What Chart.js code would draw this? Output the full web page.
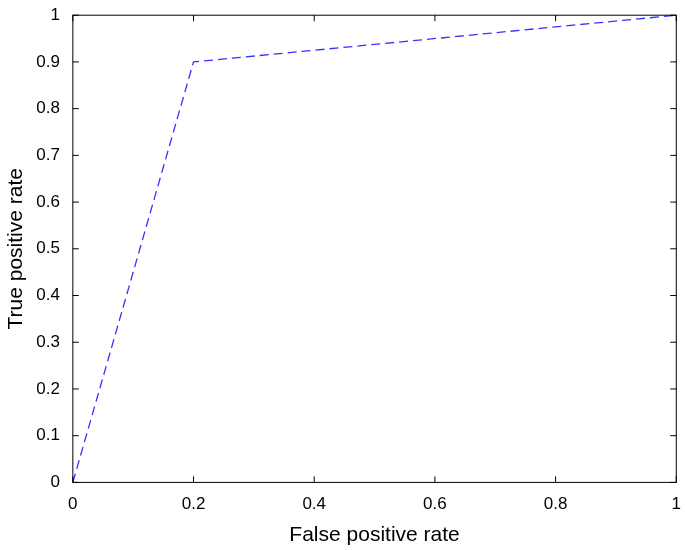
<!DOCTYPE html>
<html>
<head>
  <meta charset="UTF-8">
  <title>ROC curve</title>
  <script src="https://cdn.jsdelivr.net/npm/chart.js"></script>
  <style>
    body { margin: 0; background: #fff; }
  </style>
</head>
<body>
  <canvas id="roc" width="685" height="550"></canvas>
  <script>
    // ROC points
    const fpr = [0, 0.2, 1];
    const tpr = [0, 0.9, 1];
    const xTicks = [0, 0.2, 0.4, 0.6, 0.8, 1];
    const yTicks = [0, 0.1, 0.2, 0.3, 0.4, 0.5, 0.6, 0.7, 0.8, 0.9, 1];

    // box around the plot with short inward ticks, matlab style
    const boxPlugin = {
      id: 'box',
      afterDraw(chart) {
        const { ctx, chartArea: a, scales } = chart;
        ctx.save();
        ctx.strokeStyle = '#000';
        ctx.lineWidth = 1;
        ctx.strokeRect(a.left, a.top, a.right - a.left, a.bottom - a.top);
        ctx.beginPath();
        xTicks.forEach(v => {
          const x = scales.x.getPixelForValue(v);
          ctx.moveTo(x, a.bottom); ctx.lineTo(x, a.bottom - 6);
          ctx.moveTo(x, a.top); ctx.lineTo(x, a.top + 6);
        });
        yTicks.forEach(v => {
          const y = scales.y.getPixelForValue(v);
          ctx.moveTo(a.left, y); ctx.lineTo(a.left + 6, y);
          ctx.moveTo(a.right, y); ctx.lineTo(a.right - 6, y);
        });
        ctx.stroke();
        ctx.restore();
      }
    };

    const font = { family: 'Liberation Sans, Arial, sans-serif', size: 17 };

    new Chart(document.getElementById('roc').getContext('2d'), {
      type: 'scatter',
      data: {
        datasets: [{
          data: fpr.map((x, i) => ({ x: x, y: tpr[i] })),
          showLine: true,
          borderColor: '#3333ff',
          borderWidth: 1.3,
          borderDash: [9, 5],
          pointRadius: 0,
          fill: false
        }]
      },
      options: {
        responsive: false,
        animation: false,
        layout: { padding: { top: -3, right: -8, left: 0, bottom: 0 } },
        plugins: { legend: { display: false }, tooltip: { enabled: false } },
        scales: {
          x: {
            type: 'linear', min: 0, max: 1,
            afterBuildTicks: s => { s.ticks = xTicks.map(v => ({ value: v })); },
            grid: { display: false },
            border: { display: false },
            ticks: { color: '#000', font: font, padding: 4, maxRotation: 0,
                     callback: v => String(v) },
            title: { display: true, text: 'False positive rate', color: '#000',
                     font: { family: font.family, size: 21 }, padding: { top: 4, bottom: 2 } }
          },
          y: {
            type: 'linear', min: 0, max: 1,
            afterBuildTicks: s => { s.ticks = yTicks.map(v => ({ value: v })); },
            grid: { display: false },
            border: { display: false },
            ticks: { color: '#000', font: font, padding: 5,
                     callback: v => String(v) },
            title: { display: true, text: 'True positive rate', color: '#000',
                     font: { family: font.family, size: 21 }, padding: { bottom: 2 } }
          }
        }
      },
      plugins: [boxPlugin]
    });
  </script>
</body>
</html>
